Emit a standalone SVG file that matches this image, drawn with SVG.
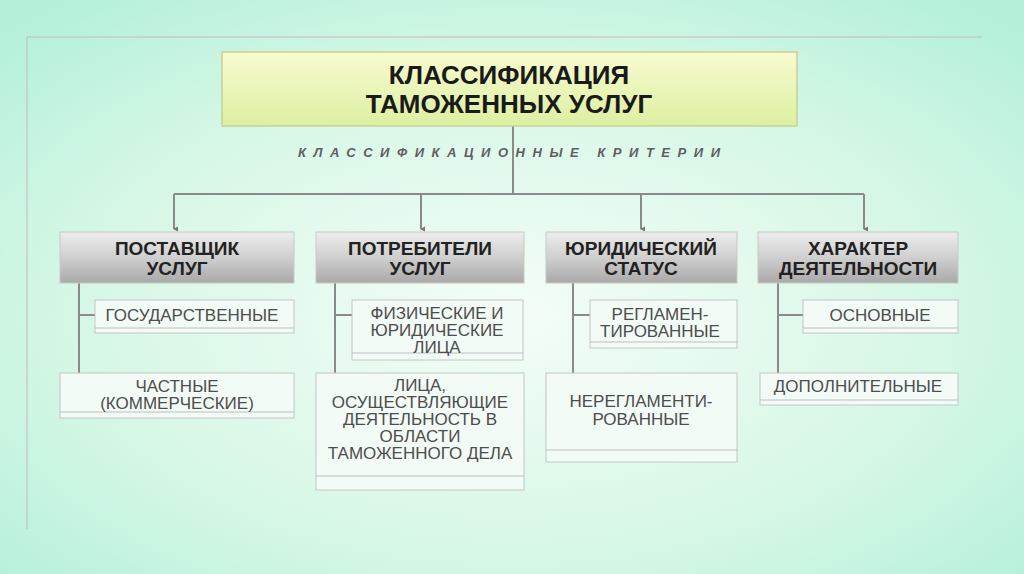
<svg xmlns="http://www.w3.org/2000/svg" width="1024" height="574" viewBox="0 0 1024 574">
<defs>
<radialGradient id="bg" cx="0.5" cy="0.55" r="0.7">
<stop offset="0" stop-color="#f4fdf6"/>
<stop offset="0.6" stop-color="#d6f7e6"/>
<stop offset="1" stop-color="#b4f0d8"/>
</radialGradient>
<linearGradient id="title" x1="0" y1="0" x2="0" y2="1">
<stop offset="0" stop-color="#f8fbcf"/>
<stop offset="1" stop-color="#dcefa2"/>
</linearGradient>
<linearGradient id="cat" x1="0" y1="0" x2="0" y2="1">
<stop offset="0" stop-color="#ededed"/>
<stop offset="0.5" stop-color="#cfcfcf"/>
<stop offset="1" stop-color="#a9a9a9"/>
</linearGradient>
<marker id="arr" markerWidth="6" markerHeight="6" refX="3" refY="5" orient="auto" markerUnits="userSpaceOnUse">
<path d="M0.5,1 L3,6 L5.5,1 Z" fill="#777"/>
</marker>
</defs>
<style>
.ln{stroke:#8a8a8a;stroke-width:2;fill:none}
.cat{fill:url(#cat);stroke:#c8c8c8;stroke-width:1}
.sub{fill:#f3fbf7;stroke:#c4c4c4;stroke-width:1}
.band{stroke:#bdbdbd;stroke-width:1}
.tt{font-family:"Liberation Sans",Arial,sans-serif;font-weight:bold;font-size:26px;fill:#1a1a1a;text-anchor:middle}
.ct{font-family:"Liberation Sans",Arial,sans-serif;font-weight:bold;font-size:19px;fill:#222;text-anchor:middle}
.st{font-family:"Liberation Sans",Arial,sans-serif;font-size:17px;fill:#4d4d4d;text-anchor:middle}
.cr{font-family:"Liberation Sans",Arial,sans-serif;font-weight:bold;font-style:italic;font-size:13px;fill:#5e5e5e;text-anchor:middle}
</style>
<rect width="1024" height="574" fill="url(#bg)"/>
<path d="M27,529 V37 H982" stroke="#bdbdbd" stroke-width="1" fill="none"/>

<g id="connectors">
<path class="ln" d="M513,126 V194"/>
<path class="ln" d="M174,194 H864"/>
<path class="ln" d="M174,194 V229" marker-end="url(#arr)"/>
<path class="ln" d="M421,194 V229" marker-end="url(#arr)"/>
<path class="ln" d="M641,194 V229" marker-end="url(#arr)"/>
<path class="ln" d="M864,194 V229" marker-end="url(#arr)"/>
<path class="ln" d="M79,283 V373 M79,315 H95"/>
<path class="ln" d="M335,283 V373 M335,315 H352"/>
<path class="ln" d="M573,283 V373 M573,315 H590"/>
<path class="ln" d="M778,283 V373 M778,315 H803"/>
</g>

<g id="title">
<rect x="222" y="52" width="575" height="74" fill="url(#title)" stroke="#c9cf9a" stroke-width="1.5"/>
<text class="tt" x="509" y="84">КЛАССИФИКАЦИЯ</text>
<text class="tt" x="509" y="113">ТАМОЖЕННЫХ УСЛУГ</text>
</g>
<g id="criteria">
<text class="cr" x="509" y="157" textLength="422" lengthAdjust="spacing">КЛАССИФИКАЦИОННЫЕ КРИТЕРИИ</text>
</g>

<g id="cat1">
<rect class="cat" x="60" y="232" width="234" height="51"/>
<text class="ct" x="177" y="255">ПОСТАВЩИК</text>
<text class="ct" x="177" y="275">УСЛУГ</text>
</g>
<g id="cat2">
<rect class="cat" x="316" y="232" width="208" height="51"/>
<text class="ct" x="420" y="255">ПОТРЕБИТЕЛИ</text>
<text class="ct" x="420" y="275">УСЛУГ</text>
</g>
<g id="cat3">
<rect class="cat" x="546" y="232" width="191" height="51"/>
<text class="ct" x="641" y="255">ЮРИДИЧЕСКИЙ</text>
<text class="ct" x="641" y="275">СТАТУС</text>
</g>
<g id="cat4">
<rect class="cat" x="758" y="232" width="200" height="51"/>
<text class="ct" x="858" y="255">ХАРАКТЕР</text>
<text class="ct" x="858" y="275">ДЕЯТЕЛЬНОСТИ</text>
</g>

<g id="sub1a">
<rect class="sub" x="95" y="300" width="199" height="33"/>
<line class="band" x1="95" y1="328" x2="294" y2="328"/>
<text class="st" x="192" y="321">ГОСУДАРСТВЕННЫЕ</text>
</g>
<g id="sub1b">
<rect class="sub" x="60" y="373" width="234" height="45"/>
<line class="band" x1="60" y1="412" x2="294" y2="412"/>
<text class="st" x="177" y="392">ЧАСТНЫЕ</text>
<text class="st" x="177" y="409">(КОММЕРЧЕСКИЕ)</text>
</g>
<g id="sub2a">
<rect class="sub" x="352" y="300" width="171" height="60"/>
<line class="band" x1="352" y1="353" x2="523" y2="353"/>
<text class="st" x="437" y="319">ФИЗИЧЕСКИЕ И</text>
<text class="st" x="437" y="336">ЮРИДИЧЕСКИЕ</text>
<text class="st" x="437" y="353">ЛИЦА</text>
</g>
<g id="sub2b">
<rect class="sub" x="316" y="373" width="208" height="117"/>
<line class="band" x1="316" y1="476" x2="524" y2="476"/>
<text class="st" x="420" y="391">ЛИЦА,</text>
<text class="st" x="420" y="408">ОСУЩЕСТВЛЯЮЩИЕ</text>
<text class="st" x="420" y="425">ДЕЯТЕЛЬНОСТЬ В</text>
<text class="st" x="420" y="442">ОБЛАСТИ</text>
<text class="st" x="420" y="459">ТАМОЖЕННОГО ДЕЛА</text>
</g>
<g id="sub3a">
<rect class="sub" x="590" y="300" width="147" height="48"/>
<line class="band" x1="590" y1="342" x2="737" y2="342"/>
<text class="st" x="660" y="320">РЕГЛАМЕН-</text>
<text class="st" x="660" y="337">ТИРОВАННЫЕ</text>
</g>
<g id="sub3b">
<rect class="sub" x="546" y="373" width="191" height="89"/>
<line class="band" x1="546" y1="450" x2="737" y2="450"/>
<text class="st" x="641" y="407">НЕРЕГЛАМЕНТИ-</text>
<text class="st" x="641" y="425">РОВАННЫЕ</text>
</g>
<g id="sub4a">
<rect class="sub" x="803" y="300" width="155" height="33"/>
<line class="band" x1="803" y1="328" x2="958" y2="328"/>
<text class="st" x="880" y="321">ОСНОВНЫЕ</text>
</g>
<g id="sub4b">
<rect class="sub" x="760" y="373" width="198" height="32"/>
<line class="band" x1="760" y1="400" x2="958" y2="400"/>
<text class="st" x="858" y="392">ДОПОЛНИТЕЛЬНЫЕ</text>
</g>
</svg>
